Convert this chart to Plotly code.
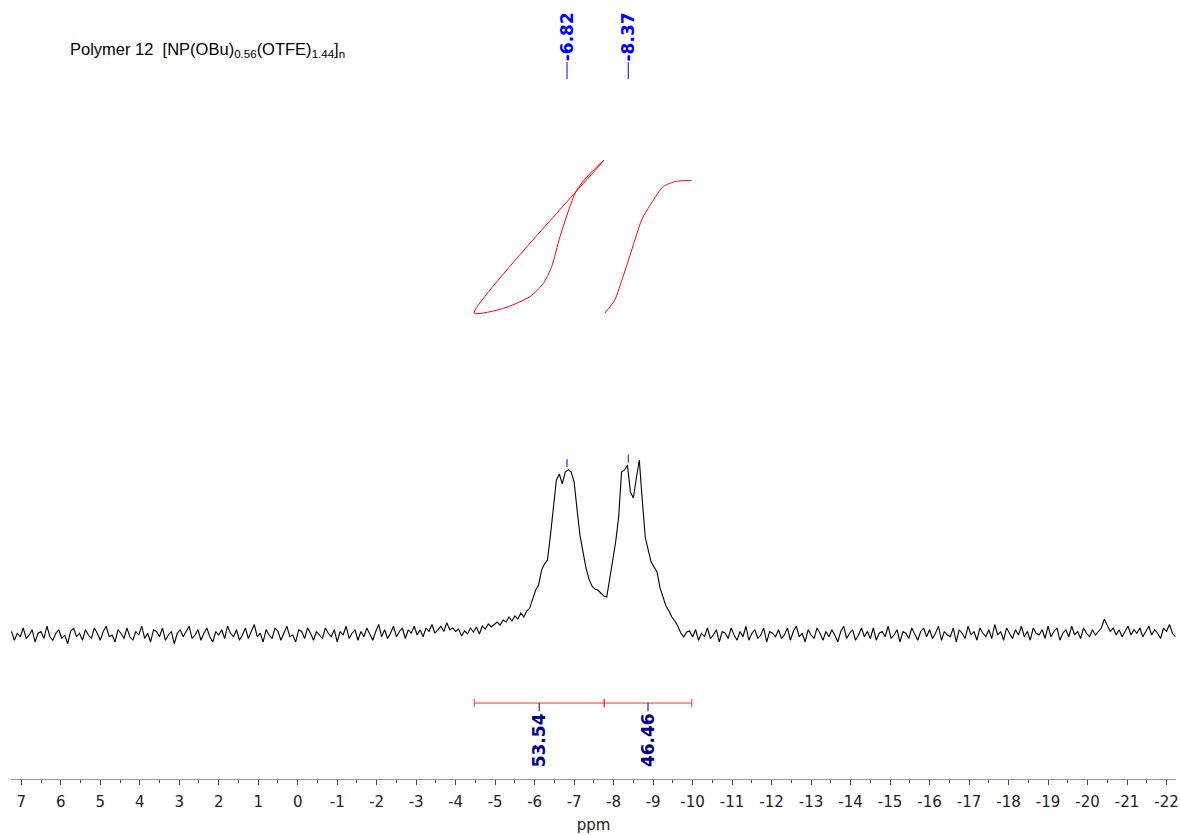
import plotly.graph_objects as go

# ---------------- data ----------------
# spectral sampling grid (ppm of first point and point spacing)
ppm_first = 7.25
ppm_step = -0.075

# 31P intensity (percent of tallest peak)
intensity = [
    # baseline 7.25 .. -3.9 ppm
    2, -3, 1, -1, 4, -2, 0, 3, -4, 1, 2, -2, 5, -1, -3,
    1, 3, -2, 0, -5, 2, 4, -1, 1, -3, 3, 0, -2, 4, 1,
    -3, 2, 5, -1, 0, -4, 3, 1, -2, 4, -1, -3, 2, 0, 5,
    -2, 1, -4, 3, 2, -1, 4, -3, 0, 2, -5, 1, 3, -1, 2,
    5, -2, 0, 3, -3, 1, 4, -1, -4, 2, 0, 3, -2, 5, 1,
    -1, 3, -3, 0, 4, -2, 2, 6, -1, 1, -4, 3, 0, -2, 4,
    2, -3, 1, 5, -1, 0, -4, 3, 2, -2, 4, 1, -3, 2, 0,
    -2, 4, 1, -1, 3, -4, 2, 0, 5, -2, 1, 3, -3, 2, -1,
    4, 0, -3, 2, 6, -1, 3, -2, 1, 5, -1, 2, 4, -2, 3,
    1, 5, 0, 3, -1, 4, 2, 6, 1, 3, 5, 2, 7, 3, 4,
    # signal region -4.0 .. -10.0 ppm
    2, 3.4, -0.6, 2.3, 0.6, 4, 1.7, 4.6, 0.6, 5.1,
    3.4, 6.3, 4.6, 6.3, 7.4, 5.7, 8.6, 7.4, 10.3, 8,
    10.9, 9.1, 12.6, 10.3, 13.7, 15.4, 20, 25.7, 28.6, 37.1,
    40.6, 42.9, 57, 71.4, 88.6, 92, 86.3, 93.1, 94.5, 93.1,
    87.4, 71.4, 56.6, 47.4, 38.3, 32, 28, 26.3, 25.7, 24,
    22.3, 21.7, 32.6, 42.9, 53, 66.9, 93.1, 94.3, 97.1, 81.7,
    78.3, 89.7, 100, 77.1, 56, 48.6, 41.7, 38.9, 36, 26.9,
    21.1, 16.6, 13.7, 10.3, 8, 5.1, 1.1, -1.1, 1.7, 2.3,
    -1.1,
    # baseline -10.1 .. -22.2 ppm
    3, -3, 1, -1, 4, -2, 0, 3, -4, 2, 1, -2, 4, 0, -3,
    2, -1, 5, -3, 1, 3, -2, 0, 4, -4, 2, 1, -1, 3, -2,
    0, 4, -3, 2, 5, -1, 1, -4, 3, 0, -2, 4, 1, -3, 2,
    -1, 3, 0, -4, 2, 5, -2, 1, 3, -3, 0, 4, -1, 2, -2,
    4, -3, 1, 2, -1, 5, -2, 0, 3, -4, 2, 1, -2, 4, 0,
    -3, 2, 4, -1, 3, -2, 1, 5, -3, 2, 0, -1, 4, -4, 3,
    1, -2, 5, 0, 2, -3, 4, 1, -1, 3, -2, 6, 0, 2, -3,
    4, 1, -2, 3, 0, 5, -1, 2, -3, 4, 1, 0, 3, -2, 5,
    -1, 2, 4, -3, 1, 3, -1, 5, 0, 2, -2, 4, 1, -1, 3,
    0, 2, 4, 9, 5, 2, 4, 0, 3, -1, 2, 5, 0, 3, 1,
    4, -1, 2, 5, 0, 3, 1, -2, 4, 2, 6, 1, -1,
]

tick_values = [7, 6, 5, 4, 3, 2, 1, 0, -1, -2, -3, -4, -5, -6, -7, -8, -9, -10, -11,
               -12, -13, -14, -15, -16, -17, -18, -19, -20, -21, -22]
tick_labels = ["7", "6", "5", "4", "3", "2", "1", "0", "-1", "-2", "-3", "-4", "-5", "-6",
               "-7", "-8", "-9", "-10", "-11", "-12", "-13", "-14", "-15", "-16", "-17",
               "-18", "-19", "-20", "-21", "-22"]

peak_ppm = [-6.82, -8.37]
peak_labels = ["-6.82", "-8.37"]

integral_ranges = [(-4.47, -7.76), (-7.76, -9.98)]
integral_values = [53.54, 46.46]

integral1_ppm = [-4.47, -5.21, -5.88, -6.22, -6.43, -6.64, -6.89, -7.06, -7.32, -7.75]
integral1_val = [0, 1.6, 5.7, 10.4, 16.2, 26.7, 37.2, 43.0, 47.7, 53.54]
integral2_ppm = [-7.78, -8.03, -8.24, -8.46, -8.71, -8.96, -9.26, -9.59, -9.97]
integral2_val = [0, 4.6, 12.8, 22.2, 32.7, 38.6, 44.4, 46.2, 46.46]

title_text = "Polymer 12\u00a0\u00a0[NP(OBu)<sub>0.56</sub>(OTFE)<sub>1.44</sub>]<sub>n</sub>"

# ---------------- figure ----------------
ppm = [ppm_first + k * ppm_step for k in range(len(intensity))]

fig = go.Figure()
fig.add_trace(go.Scatter(x=ppm, y=intensity, mode="lines",
                         line=dict(color="black", width=1.1), hoverinfo="skip"))

# integral curves (first one drawn as a closed loop like the reference)
fig.add_trace(go.Scatter(x=integral1_ppm + [integral1_ppm[0]],
                         y=integral1_val + [integral1_val[0]],
                         mode="lines", line=dict(color="#ff0000", width=1, shape="spline", smoothing=0.6),
                         yaxis="y2", hoverinfo="skip"))
fig.add_trace(go.Scatter(x=integral2_ppm, y=integral2_val,
                         mode="lines", line=dict(color="#ff0000", width=1, shape="spline", smoothing=0.6),
                         yaxis="y2", hoverinfo="skip"))

shapes = []
annotations = []


def nearest_intensity(p):
    k = round((p - ppm_first) / ppm_step)
    return max(intensity[max(k - 1, 0):k + 2])


for p, lab in zip(peak_ppm, peak_labels):
    shapes.append(dict(type="line", xref="x", yref="y", x0=p, x1=p, y0=317.7, y1=327.4,
                       line=dict(color="#0000ff", width=1)))
    top = nearest_intensity(p)
    shapes.append(dict(type="line", xref="x", yref="y", x0=p, x1=p, y0=top + 1.5, y1=top + 6,
                       line=dict(color="#0000ff", width=1)))
    annotations.append(dict(x=p, y=326.5, xref="x", yref="y", text="<b>%s</b>" % lab,
                            textangle=-90, showarrow=False, xanchor="center", yanchor="bottom",
                            font=dict(family="DejaVu Sans", size=17, color="#0000ff")))

# integral bar and values
bar_y = -38.9
for (a, b), v in zip(integral_ranges, integral_values):
    shapes.append(dict(type="line", xref="x", yref="y", x0=a, x1=b, y0=bar_y, y1=bar_y,
                       line=dict(color="#ff3030", width=1)))
    for e in (a, b):
        shapes.append(dict(type="line", xref="x", yref="y", x0=e, x1=e, y0=bar_y - 2.3, y1=bar_y + 2.3,
                           line=dict(color="#ff3030", width=1)))
    c = (a + b) / 2
    shapes.append(dict(type="line", xref="x", yref="y", x0=c, x1=c, y0=bar_y, y1=bar_y - 4.6,
                       line=dict(color="#000080", width=1)))
    annotations.append(dict(x=c, y=bar_y - 4.6, xref="x", yref="y", text="<b>%.2f</b>" % v,
                            textangle=-90, showarrow=False, xanchor="center", yanchor="top",
                            font=dict(family="DejaVu Sans", size=17, color="#000080")))

annotations.append(dict(x=0.0485, y=0.936, xref="paper", yref="paper", text=title_text,
                        showarrow=False, xanchor="left", yanchor="middle",
                        font=dict(family="Liberation Sans", size=16.5, color="black")))

fig.update_layout(
    width=1180, height=835,
    template="none",
    margin=dict(l=11, r=4, t=0, b=56),
    paper_bgcolor="white", plot_bgcolor="white",
    showlegend=False,
    shapes=shapes, annotations=annotations,
    xaxis=dict(range=[7.26, -22.24], tickmode="array", tickvals=tick_values, ticktext=tick_labels,
               automargin=False, ticklabeloverflow="allow",
               ticks="outside", ticklen=5, tickcolor="#444", tickwidth=1,
               showline=True, linecolor="#999", linewidth=1,
               showgrid=False, zeroline=False,
               minor=dict(tick0=0.5, dtick=1, ticks="outside", ticklen=3, tickcolor="#444", showgrid=False),
               tickfont=dict(family="DejaVu Sans", size=15, color="#222"),
               ticklabelstandoff=4,
               title=dict(text="ppm", font=dict(family="DejaVu Sans", size=15, color="#222"), standoff=9)),
    yaxis=dict(range=[-82.3, 362.9], visible=False, showgrid=False, zeroline=False, automargin=False),
    yaxis2=dict(range=[-163.5, 109.8], overlaying="y", visible=False, showgrid=False, zeroline=False,
                automargin=False),
)

fig.write_html("out.html", config={"displayModeBar": False},
               post_script="document.body.style.margin='0px';")
